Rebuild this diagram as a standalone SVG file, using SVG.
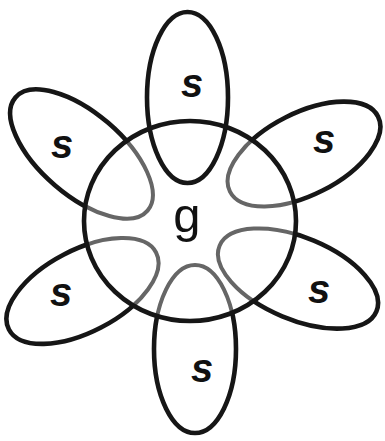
<svg xmlns="http://www.w3.org/2000/svg" width="385" height="441" viewBox="0 0 385 441">
<style>
.blk{fill:none;stroke:#161616;stroke-width:4.6}
.gry{fill:none;stroke:#666;stroke-width:4}
.s{font-family:"Liberation Sans",Arial,sans-serif;font-style:italic;font-weight:bold;font-size:40px;fill:#111;text-anchor:middle}
.g{font-family:"Liberation Sans",Arial,sans-serif;font-size:49px;fill:#111;text-anchor:middle}
</style>
<defs>
<clipPath id="inside"><ellipse cx="190" cy="221" rx="106" ry="100"/></clipPath>
<clipPath id="outside"><path clip-rule="evenodd" d="M0 0H385V441H0Z M84 221a106 100 0 1 0 212 0a106 100 0 1 0-212 0Z"/></clipPath>
<ellipse id="p-top" cx="187.5" cy="97.5" rx="40.5" ry="85.5"/>
<ellipse id="p-ul" cx="81.5" cy="154" rx="87" ry="41" transform="rotate(40.6 81.5 154)"/>
<ellipse id="p-ur" cx="304" cy="154" rx="83" ry="41" transform="rotate(-26.9 304 154)"/>
<ellipse id="p-ll" cx="82.5" cy="291" rx="83" ry="41" transform="rotate(-27.6 82.5 291)"/>
<ellipse id="p-lr" cx="298" cy="278.5" rx="85" ry="41" transform="rotate(22.7 298 278.5)"/>
<ellipse id="p-bot" cx="195" cy="349" rx="41" ry="84"/>
</defs>
<g id="petal-top">
<use href="#p-top" class="blk"/>
<text class="s" x="192" y="97">s</text>
</g>
<g id="petal-upper-left">
<g clip-path="url(#inside)"><use href="#p-ul" class="gry"/></g>
<g clip-path="url(#outside)"><use href="#p-ul" class="blk"/></g>
<text class="s" x="62" y="158">s</text>
</g>
<g id="petal-upper-right">
<g clip-path="url(#inside)"><use href="#p-ur" class="gry"/></g>
<g clip-path="url(#outside)"><use href="#p-ur" class="blk"/></g>
<text class="s" x="324" y="153">s</text>
</g>
<g id="petal-lower-left">
<g clip-path="url(#inside)"><use href="#p-ll" class="gry"/></g>
<g clip-path="url(#outside)"><use href="#p-ll" class="blk"/></g>
<text class="s" x="61" y="306">s</text>
</g>
<g id="petal-lower-right">
<g clip-path="url(#inside)"><use href="#p-lr" class="gry"/></g>
<g clip-path="url(#outside)"><use href="#p-lr" class="blk"/></g>
<text class="s" x="319" y="303">s</text>
</g>
<g id="petal-bottom">
<g clip-path="url(#inside)"><use href="#p-bot" class="gry"/></g>
<g clip-path="url(#outside)"><use href="#p-bot" class="blk"/></g>
<text class="s" x="202" y="382">s</text>
</g>
<g id="core">
<ellipse class="blk" cx="190" cy="221" rx="106" ry="100"/>
<text class="g" x="187" y="232">g</text>
</g>
<g id="connectors"/>
</svg>
